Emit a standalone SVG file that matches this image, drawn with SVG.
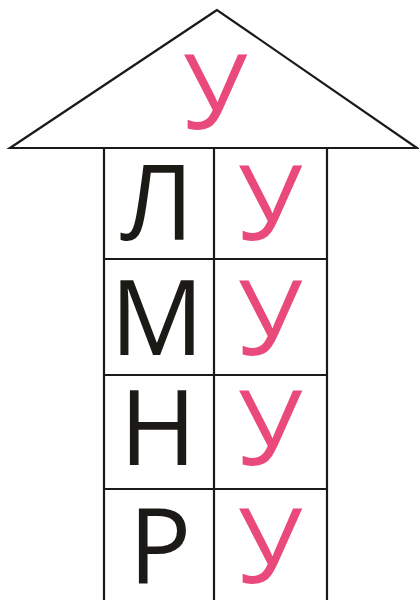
<svg xmlns="http://www.w3.org/2000/svg" width="419" height="600" viewBox="0 0 419 600">
<style>
.ln{fill:none;stroke:#1a1a1a;stroke-width:2.2;stroke-linejoin:miter}
.t{font-family:"Open Sans","Noto Sans","DejaVu Sans",sans-serif;font-size:104px;text-anchor:middle}
.k{fill:#1c1a17}
.p{fill:#ea4a7b}
</style>
<rect width="419" height="600" fill="#ffffff"/>
<g id="roof">
<polygon class="ln" points="217,10 10,148 417,148" fill="#fff"/>
<text class="t p" x="215" y="129">У</text>
</g>
<g id="grid">
<path class="ln" d="M104,149 V600 M214,149 V600 M327,149 V600 M104,259 H327 M104,375 H327 M104,489 H327"/>
</g>
<g id="cell-l1"><text class="t k" x="157" y="240">Л</text></g>
<g id="cell-r1"><text class="t p" x="270" y="240">У</text></g>
<g id="cell-l2"><text class="t k" x="157" y="355">М</text></g>
<g id="cell-r2"><text class="t p" x="270" y="355">У</text></g>
<g id="cell-l3"><text class="t k" x="158" y="465">Н</text></g>
<g id="cell-r3"><text class="t p" x="270" y="465">У</text></g>
<g id="cell-l4"><text class="t k" x="160" y="583">Р</text></g>
<g id="cell-r4"><text class="t p" x="270" y="583">У</text></g>
</svg>
